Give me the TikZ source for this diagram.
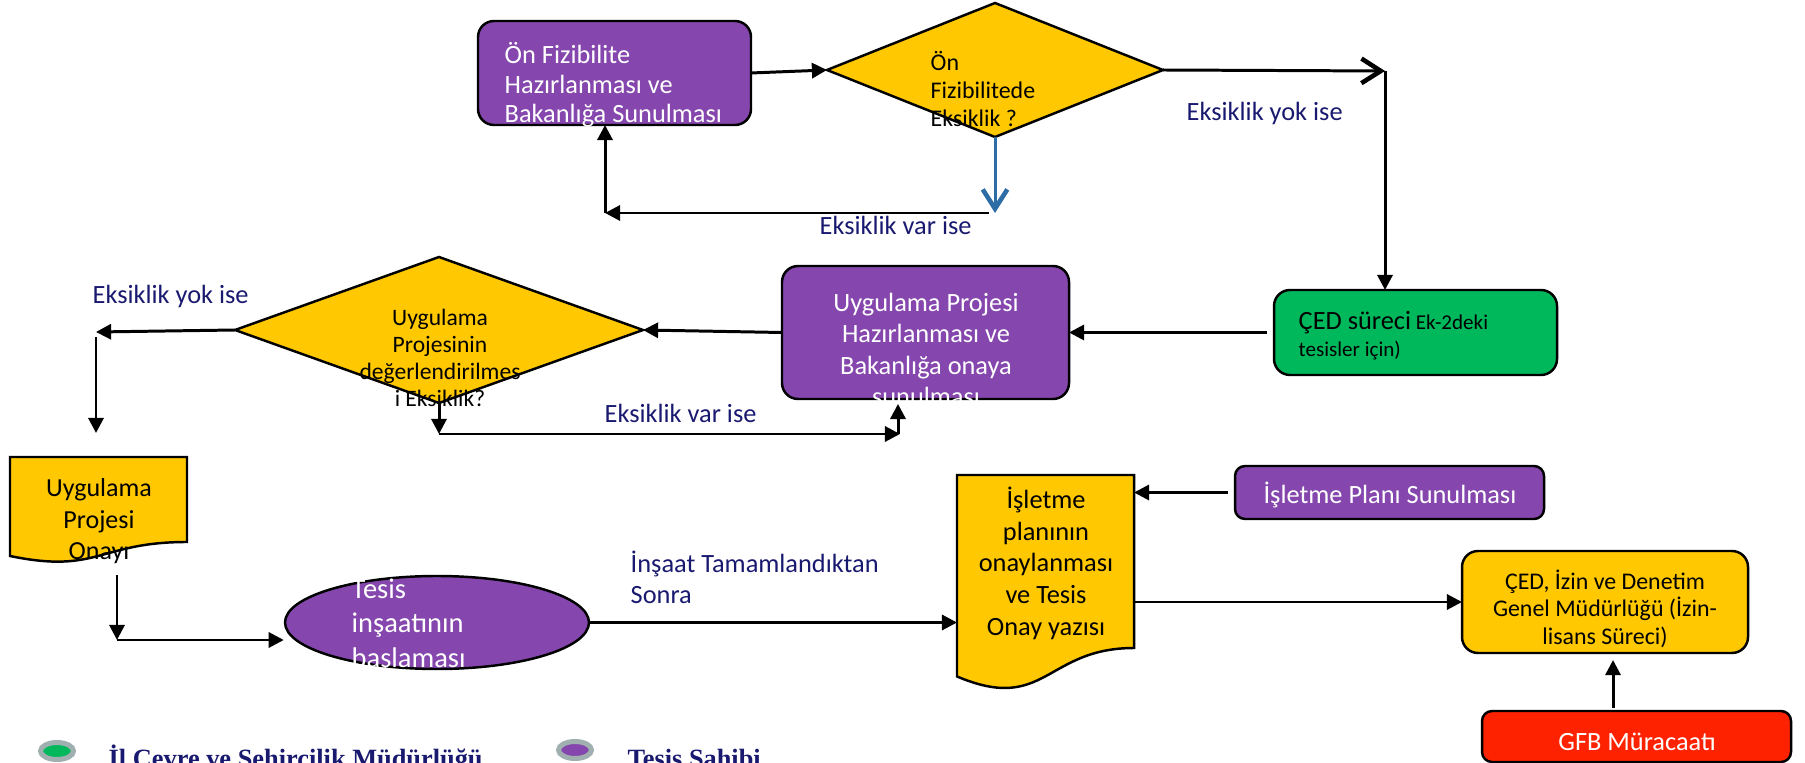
\documentclass[tikz,border=0pt]{standalone}
\usepackage{fontspec}
\setmainfont{Carlito}
\newfontfamily\lejantfont{Liberation Serif}
\usetikzlibrary{arrows.meta, shapes.geometric, calc, positioning}

\definecolor{mor}{RGB}{133,71,173}
\definecolor{sari}{RGB}{255,200,0}
\definecolor{yesil}{RGB}{0,184,92}
\definecolor{kirmizi}{RGB}{255,34,0}
\definecolor{lacivert}{RGB}{25,25,112}
\definecolor{mavi}{RGB}{46,108,166}
\definecolor{halka}{RGB}{160,176,176}

% belge sekli (alt kenari dalgali)
\newcommand{\belgeciz}[1]{%
  \draw[belge] (#1.north west) -- (#1.north east) -- (#1.south east)
    .. controls (#1.south) and ($(#1.south)!-0.381!(#1.north)$)
    .. ($(#1.south west)!-0.1646!(#1.north west)$) -- cycle;}

\begin{document}
\begin{tikzpicture}
    \tikzset{>={Triangle[length=4.3pt,width=4.3pt]}}
    \tikzset{
      kutu/.style={draw=black, line width=0.7pt, rounded corners=0.16cm, inner sep=0pt, outer sep=0pt},
      morkutu/.style={kutu, fill=mor},
      karar/.style={diamond, draw=black, line width=0.7pt, fill=sari, inner sep=0pt, outer sep=0pt},
      belgekutu/.style={rectangle, inner sep=0pt, outer sep=0pt},
      belge/.style={draw=black, line width=0.7pt, fill=sari},
      beyaz/.style={text=white, inner sep=0pt},
      siyah/.style={text=black, inner sep=0pt},
      etiket/.style={text=lacivert, inner sep=0pt, anchor=base west, align=left, font={\fontsize{7.5}{8.8}\selectfont}},
      ok/.style={->, line width=0.85pt},
      acikok/.style={-{Straight Barb[length=5.5pt,width=7pt,line width=1.3pt]}, line width=0.85pt},
      lejant/.style={ellipse, draw=halka, line width=0.05cm, minimum width=0.33cm, minimum height=0.17cm, inner sep=0pt},
      lejantyazi/.style={text=lacivert, inner sep=0pt, anchor=base west, font={\lejantfont\bfseries\fontsize{7.5}{9}\selectfont}}
    }
    \useasboundingbox (0,0) rectangle (18.05,-7.63);
    \clip (0,0) rectangle (18.05,-7.63);

    % sekiller
    \node[morkutu, minimum width=2.73cm, minimum height=1.04cm] (onfiz) at (6.145,-0.73) {};
    \node[karar, minimum width=3.36cm, minimum height=1.34cm] (fizq) at (9.95,-0.70) {};
    \node[kutu, fill=yesil, minimum width=2.83cm, minimum height=0.85cm] (cedsurec) at (14.155,-3.325) {};
    \node[morkutu, minimum width=2.87cm, minimum height=1.33cm] (uygproj) at (9.255,-3.325) {};
    \node[karar, minimum width=4.08cm, minimum height=1.46cm] (uygq) at (4.39,-3.30) {};
    \node[belgekutu, minimum width=1.77cm, minimum height=0.85cm] (uygonay) at (0.985,-4.995) {};
    \node[ellipse, draw=black, line width=0.7pt, fill=mor, minimum width=3.04cm, minimum height=0.93cm, inner sep=0pt] (insaat) at (4.37,-6.225) {};
    \node[belgekutu, minimum width=1.77cm, minimum height=1.73cm] (isletme) at (10.455,-5.615) {};
    \node[morkutu, rounded corners=0.1cm, minimum width=3.09cm, minimum height=0.53cm] (isplan) at (13.895,-4.925) {};
    \node[kutu, fill=sari, minimum width=2.86cm, minimum height=1.02cm] (cedizin) at (16.05,-6.02) {};
    \node[kutu, fill=kirmizi, rounded corners=0.1cm, minimum width=3.09cm, minimum height=0.51cm] (gfb) at (16.365,-7.365) {};
    \belgeciz{uygonay}
    \belgeciz{isletme}

    % yazilar (base = son satir)
    \node[beyaz, anchor=base west, align=left, font={\fontsize{7.5}{8.5}\selectfont}] (onfiz-y) at (5.04,-1.23) {Ön Fizibilite\\Hazırlanması ve\\Bakanlığa Sunulması};
    \node[siyah, anchor=base west, align=left, font={\fontsize{6.8}{8}\selectfont}] (fizq-y) at (9.30,-1.27) {Ön\\Fizibilitede\\Eksiklik ?};
    \node[siyah, anchor=base west, align=left, font={\fontsize{6}{7.7}\selectfont}] (cedsurec-y) at (12.98,-3.57) {{\fontsize{7.5}{7.7}\selectfont ÇED süreci} Ek-2deki\\tesisler için)};
    \node[beyaz, anchor=base, align=center, font={\fontsize{7.5}{9}\selectfont}] (uygproj-y) at (9.26,-4.06) {Uygulama Projesi\\Hazırlanması ve\\Bakanlığa onaya\\sunulması};
    \node[siyah, anchor=base, align=center, font={\fontsize{6.7}{7.7}\selectfont}] (uygq-y) at (4.40,-4.07) {Uygulama\\Projesinin\\değerlendirilmes\\i Eksiklik?};
    \node[siyah, anchor=base, align=center, font={\fontsize{7.4}{9.1}\selectfont}] (uygonay-y) at (0.99,-5.60) {Uygulama\\Projesi\\Onayı};
    \node[beyaz, anchor=base west, align=left, font={\fontsize{8.1}{9.8}\selectfont}] (insaat-y) at (3.51,-6.67) {Tesis\\inşaatının\\başlaması};
    \node[siyah, anchor=base, align=center, font={\fontsize{7.5}{9}\selectfont}] (isletme-y) at (10.46,-6.35) {İşletme\\planının\\onaylanması\\ve Tesis\\Onay yazısı};
    \node[beyaz, anchor=base, font={\fontsize{7.5}{9}\selectfont}] (isplan-y) at (13.90,-5.04) {İşletme Planı Sunulması};
    \node[siyah, anchor=base, align=center, font={\fontsize{6.8}{7.7}\selectfont}] (cedizin-y) at (16.05,-6.44) {ÇED, İzin ve Denetim\\Genel Müdürlüğü (İzin-\\lisans Süreci)};
    \node[beyaz, anchor=base, font={\fontsize{7.5}{9}\selectfont}] (gfb-y) at (16.37,-7.50) {GFB Müracaatı};

    % etiketler
    \node[etiket] (var1) at (8.19,-2.35) {Eksiklik var ise};
    \node[etiket] (yok1) at (11.86,-1.21) {Eksiklik yok ise};
    \node[etiket] (yok2) at (0.92,-3.04) {Eksiklik yok ise};
    \node[etiket] (var2) at (6.04,-4.23) {Eksiklik var ise};
    \node[etiket] (insaatsonra) at (6.30,-6.03) {İnşaat Tamamlandıktan\\Sonra};

    % baglantilar
    \coordinate (yokkose) at (13.85,-0.71);
    \coordinate (mavialt) at (9.95,-2.13);
    \coordinate (vardon1) at (9.89,-2.13);
    \coordinate (vardon2) at (6.05,-2.13);
    \coordinate (yoksolk) at (0.96,-3.32);
    \coordinate (yoksolalt) at (0.96,-4.33);
    \coordinate (varsol) at (4.39,-4.34);
    \coordinate (varsag) at (9.00,-4.34);
    \coordinate (onayalt) at (1.17,-5.75);
    \coordinate (onaykose) at (1.17,-6.40);
    \coordinate (gfbust) at (16.13,-7.08);

    \draw[ok] (onfiz.east) -- (fizq.west);
    \draw[acikok] (fizq.east) -- (yokkose);
    \draw[ok] (yokkose) -- (yokkose |- cedsurec.north);
    \draw[acikok, draw=mavi] (fizq.south) -- (mavialt);
    \draw[ok] (vardon1) -- (vardon2);
    \draw[ok] (vardon2) -- (vardon2 |- onfiz.south);
    \draw[ok, shorten <=2pt] (cedsurec.west) -- (uygproj.east);
    \draw[ok] (uygproj.west) -- (uygq.east);
    \draw[ok] (uygq.west) -- (yoksolk);
    \draw[ok] ([yshift=-0.05cm]yoksolk) -- (yoksolalt);
    \draw[ok] (uygq.south) -- (varsol);
    \draw[ok] (varsol) -- (varsag);
    \draw[ok, shorten >=1.4pt] ([xshift=-0.02cm]varsag) -- ([xshift=-0.02cm]varsag |- uygproj.south);
    \draw[ok] (onayalt) -- (onaykose);
    \draw[ok] (onaykose) -- (onaykose -| insaat.west);
    \draw[ok] (insaat.east) -- (insaat.east -| isletme.west);
    \draw[ok, shorten <=2pt] (isplan.west) -- (isplan.west -| isletme.east);
    \draw[ok] (isletme.east |- cedizin.west) -- (cedizin.west);
    \draw[ok, shorten >=2pt] (gfbust) -- (gfbust |- cedizin.south);

    % lejant
    \node[lejant, fill=yesil] (lejcevre) at (0.57,-7.51) {};
    \node[lejantyazi] (lejcevre-y) at (1.08,-7.67) {İl Çevre ve Şehircilik Müdürlüğü};
    \node[lejant, fill=mor] (lejsahip) at (5.75,-7.50) {};
    \node[lejantyazi] (lejsahip-y) at (6.27,-7.67) {Tesis Sahibi};
  \end{tikzpicture}
\end{document}
